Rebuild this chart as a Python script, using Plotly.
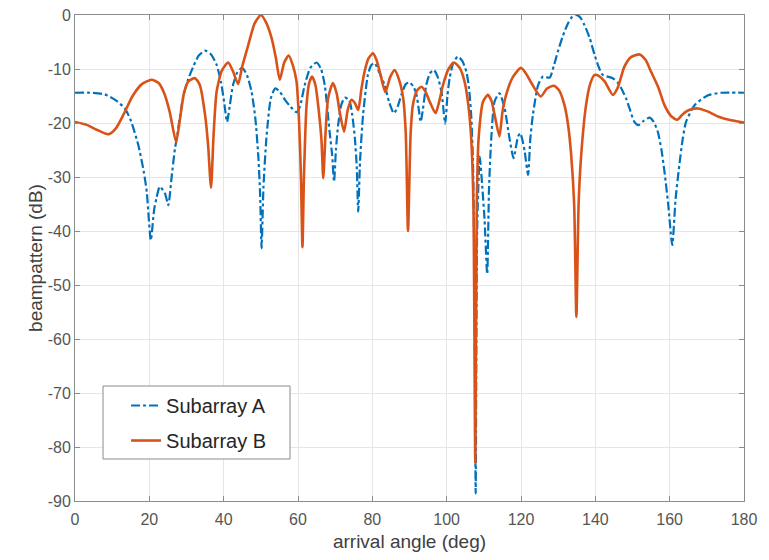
import plotly.graph_objects as go

# Subarray A
angle_a = [0, 4, 8, 11, 13.4, 15, 17, 18.5, 19.3, 20.4, 21.3, 21.9, 22.8, 24.2, 25.1, 26, 26.9, 27.3, 28.2, 29.1,
           30.5, 31.8, 33.3, 35, 36.6, 38.1, 39.3, 40.2, 40.9, 41.6, 42.5, 43.7, 45, 46.3, 47.5, 48.5, 49.3, 49.8,
           50.2, 50.7, 51.5, 52.7, 53.9, 55.2, 56.5, 58, 59.6, 60.5, 61.8, 63.3, 65, 66.2, 67.2, 68.5, 69.2, 69.7,
           70.2, 70.8, 71.7, 72.6, 73.8, 74.6, 75.3, 75.8, 76.2, 76.7, 77.5, 78.8, 79.7, 80.6, 81.8, 83.3, 84.6,
           85.8, 86.8, 87.8, 89, 90, 91, 91.8, 92.5, 93, 93.6, 94.5, 95.5, 96.6, 97.6, 98.6, 99.6, 100.2, 100.8,
           101.8, 103, 104.2, 105.3, 106, 106.6, 107.1, 107.5, 107.8, 108.2, 108.9, 109.6, 110.2, 110.9, 111.4,
           112, 112.9, 114.2, 115.6, 116.9, 118, 119.2, 119.8, 120.5, 121, 121.9, 122.5, 123.2, 124.6, 125.9,
           127.7, 128.8, 129.9, 131.3, 132.6, 133.8, 134.9, 136, 137.1, 138.5, 139.8, 141, 142, 144.7, 146, 147,
           148.3, 149.2, 150.5, 151.6, 153, 154.6, 155.7, 156.8, 157.8, 158.6, 159.6, 160.7, 161.6, 162.6, 163.5,
           164.4, 166.7, 170.2, 173.8, 180]
gain_a = [-14.4, -14.4, -14.7, -15.8, -17.3, -19.5, -24, -29, -32.7, -41.7, -36, -34, -31.8, -33, -35.2, -30, -24.7, -23.2, -19, -15.2,
          -11.8, -9.6, -7.5, -6.6, -7.3, -9.2, -12.5, -16.5, -19.8, -17, -13, -10.6, -9.8, -11.2, -14.2, -19, -25.9, -33,
          -43.2, -32, -22.8, -15.4, -13.6, -14.3, -15.7, -17, -18, -17, -13, -9.8, -8.8, -10, -13, -21.6, -26, -30.9,
          -25, -20.4, -16.5, -15.3, -15.8, -18.5, -22.8, -28, -36.4, -27, -18.5, -11.1, -9.3, -8.9, -10.5, -13, -16.3,
          -18.2, -17, -14.8, -12.8, -12.5, -13.2, -14.5, -17.5, -19.8, -17.5, -13, -10.8, -10.2, -11.5, -14.2, -20.1, -15, -11.7,
          -8.8, -7.7, -8.5, -10.5, -13.5, -18.6, -28, -50, -88.6, -40, -26.2, -32, -38, -48, -32,
          -22.8, -16, -14.5, -17.3, -22.8, -26.5, -22.5, -21.9, -23.5, -25.3, -29.6, -23, -18.5, -13, -11.4,
          -11.6, -9.5, -6.8, -3.8, -1.6, -0.3, 0, -0.5, -1.9, -4.3, -7.4, -9.8, -11.1, -11.7, -12.5, -13.6,
          -15.5, -17.3, -19.8, -20.4, -19.6, -19, -19.8, -21.6, -25, -29, -35, -42.6, -34, -27.8, -23,
          -19.8, -16.7, -14.9, -14.4, -14.4]

# Subarray B
angle_b = [0, 3, 6, 9, 11, 13, 15.5, 18, 20.6, 22.5, 24, 25.5, 27.2, 28.3, 29.3, 30.5, 32.3, 33.6, 35, 35.8, 36.6,
           37.3, 38.1, 39.5, 41.2, 42.5, 43.9, 45, 46.6, 48.3, 50, 51.5, 52.9, 54, 55.1, 56.3, 57.5, 58.6, 59.6,
           60.3, 60.8, 61.2, 61.6, 62.3, 63, 63.8, 64.7, 65.6, 66.3, 66.8, 67.4, 68.1, 69.4, 70.4, 71.2, 72.4,
           73.4, 74.4, 75.3, 76.2, 77.1, 77.9, 79, 80.2, 81.1, 82, 83.5, 84.8, 86, 87.2, 88.3, 89, 89.6, 90.3,
           90.9, 92, 93.2, 94.3, 95.4, 97, 98, 99, 100.5, 102, 103.5, 104.8, 105.8, 106.6, 107.2, 107.7, 108.1,
           108.6, 109.8, 111.1, 112.1, 112.9, 114.2, 115, 116, 117.8, 120, 121.5, 122.8, 125.3, 127, 128.9,
           130.3, 131.7, 132.7, 133.5, 134.3, 134.9, 135.5, 136.2, 137.5, 138.6, 139.8, 141, 142.5, 144.7, 146,
           147.8, 149.6, 151.9, 153.5, 155, 157, 158.6, 160.5, 162, 163.2, 164.4, 166, 167.6, 170, 173, 176.5, 180]
gain_b = [-19.8, -20.3, -21.3, -22.1, -21, -18.5, -15, -12.8, -12, -12.6, -14.5, -18, -23.5, -19, -14.5, -12.3, -11.7, -13, -18.5, -24, -32,
          -22, -14.2, -10.3, -8.8, -10.4, -12.8, -9.5, -5.6, -1.6, 0, -1.5, -4.3, -7.8, -12, -8.8, -7.5, -9.3, -12.3,
          -20, -30, -43, -30, -16.7, -12.6, -11.4, -13, -17.8, -23, -30.2, -22, -15.4, -12.6, -14.5, -17.9, -21.6,
          -17.5, -15.7, -16.3, -17.6, -13.5, -10.5, -8, -7.1, -8.3, -10.5, -14.3, -11.5, -10.2, -12, -15.4, -22, -40, -22,
          -16.7, -14, -13.3, -14.2, -16, -18.2, -16, -13, -10, -8.8, -9.8, -12.3, -16.5, -22.8, -35, -83, -35,
          -22.8, -16, -14.8, -16, -18.5, -22.5, -18, -14.8, -11.5, -9.8, -11, -12.6, -15.1, -13.6, -13.1,
          -14, -16.7, -20.5, -25.9, -35, -55.9, -35, -25.9, -16.7, -12.8, -11.1, -11.3, -12.3, -14.8, -13.5,
          -9.6, -7.8, -7.3, -8.3, -10.5, -13.5, -16.7, -18.8, -19.4, -18.6, -17.9, -17.4, -17.3, -17.8, -18.8, -19.5, -19.9]

x_ticks = list(range(0, 181, 20))
y_ticks = list(range(-90, 1, 10))
x_tick_labels = [str(v) for v in x_ticks]
y_tick_labels = [str(v) for v in y_ticks]   # plain hyphen minus, as in the reference

fig = go.Figure()
fig.add_trace(go.Scatter(x=angle_a, y=gain_a, mode="lines", name="Subarray A", legendgroup="a",
                         line=dict(color="#0072BD", width=2.2, dash="dashdot", shape="spline", smoothing=0.6)))
fig.add_trace(go.Scatter(x=angle_b, y=gain_b, mode="lines", name="Subarray B", legendgroup="b",
                         line=dict(color="#D95319", width=2.6, shape="spline", smoothing=0.6)))

axis_common = dict(showgrid=True, gridcolor="#e6e6e6", gridwidth=1, zeroline=False,
                   showline=True, linecolor="#8c8c8c", linewidth=1, mirror="ticks",
                   ticks="inside", ticklen=5, tickcolor="#8c8c8c", automargin=False,
                   ticklabeloverflow="allow",
                   tickfont=dict(size=16, color="#555555"))

# legend frame drawn as a shape so the padding matches the reference
fig.add_shape(type="rect", xref="paper", yref="paper", x0=0.0419, x1=0.3214, y0=0.0864, y1=0.2366,
              line=dict(color="#8c8c8c", width=1), fillcolor="white", layer="above")

fig.update_layout(
    width=753, height=544,
    margin=dict(l=67, r=17, t=7, b=51),
    paper_bgcolor="white", plot_bgcolor="white",
    font=dict(family="Liberation Sans, Arial, sans-serif", color="#404040"),
    xaxis=dict(range=[0, 180], tickvals=x_ticks, ticktext=x_tick_labels, ticklabelstandoff=4,
               title=dict(text="arrival angle (deg)", font=dict(size=19), standoff=19),
               **axis_common),
    yaxis=dict(range=[-90, 0], tickvals=y_ticks, ticktext=y_tick_labels,
               title=dict(text="beampattern (dB)", font=dict(size=19), standoff=0),
               **axis_common),
    legend=dict(x=0.0763, y=0.2366, xanchor="left", yanchor="top", bgcolor="rgba(0,0,0,0)",
                borderwidth=0, font=dict(size=20, color="#262626"),
                traceorder="grouped", tracegroupgap=6),
    showlegend=True,
)

fig.write_html("out.html")
